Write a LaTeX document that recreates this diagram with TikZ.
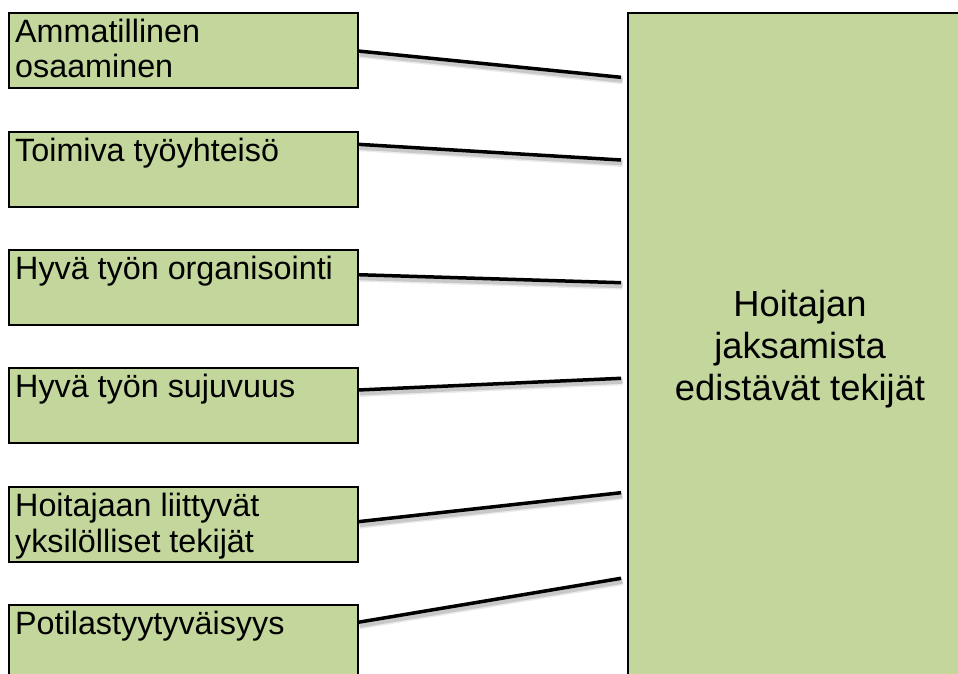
\documentclass[tikz,border=0pt]{standalone}
\usepackage{fontspec}
\setmainfont{Liberation Sans}
\usetikzlibrary{calc}
\definecolor{boxgreen}{RGB}{195,214,155}
\newcommand{\factorlines}[2][l]{\begin{tabular}[t]{@{}#1@{}}#2\end{tabular}}
\tikzset{
  factor/.style={draw=black, line width=2pt, fill=boxgreen, minimum width=349pt,
    minimum height=75pt, inner sep=0pt, anchor=north west},
  factortext/.style={anchor=base west, inner sep=0pt,
    font=\fontsize{32.3}{35.5}\selectfont},
  mainbox/.style={draw=black, line width=2pt, fill=boxgreen, minimum width=346pt,
    minimum height=668pt, inner sep=0pt, anchor=north west},
  maintext/.style={anchor=base, inner sep=0pt, font=\fontsize{36.3}{42}\selectfont},
  link/.style={line width=3.5pt, black,
    preaction={draw=black, opacity=0.08, line width=8pt,
      transform canvas={shift={(1.5pt,-3pt)}}},
    preaction={draw=black, opacity=0.15, line width=5pt,
      transform canvas={shift={(1.5pt,-3pt)}}}},
}
\begin{document}
\begin{tikzpicture}[x=1pt, y=-1pt]
  \useasboundingbox (0,0) rectangle (958,674);
  \clip (0,0) rectangle (958,674);

  % factor boxes on the left
  \node[factor] (b1) at (8,12)  {};
  \node[factor] (b2) at (8,131) {};
  \node[factor] (b3) at (8,249) {};
  \node[factor] (b4) at (8,367) {};
  \node[factor] (b5) at (8,486) {};
  \node[factor] (b6) at (8,604) {};

  \node[factortext] (t1) at ($(b1.north west)+(7,30.5)$) {\factorlines{Ammatillinen\\osaaminen}};
  \node[factortext] (t2) at ($(b2.north west)+(7,30.5)$) {\factorlines{Toimiva työyhteisö}};
  \node[factortext] (t3) at ($(b3.north west)+(7,30.5)$) {\factorlines{Hyvä työn organisointi}};
  \node[factortext] (t4) at ($(b4.north west)+(7,30.5)$) {\factorlines{Hyvä työn sujuvuus}};
  \node[factortext] (t5) at ($(b5.north west)+(7,30.5)$) {\factorlines{Hoitajaan liittyvät\\yksilölliset tekijät}};
  \node[factortext] (t6) at ($(b6.north west)+(7,30.5)$) {\factorlines{Potilastyytyväisyys}};

  % central box on the right
  \node[mainbox] (main) at (627,12) {};
  \node[maintext] (mt) at (800,316) {\factorlines[c]{Hoitajan\\jaksamista\\edistävät tekijät}};

  % connector ends, just short of the central box
  \coordinate (e1) at ($(main.north west)+(-6,65.3)$);
  \coordinate (e2) at ($(main.north west)+(-6,148)$);
  \coordinate (e3) at ($(main.north west)+(-6,270.7)$);
  \coordinate (e4) at ($(main.north west)+(-6,366.3)$);
  \coordinate (e5) at ($(main.north west)+(-6,480.7)$);
  \coordinate (e6) at ($(main.north west)+(-6,566.3)$);

  % connectors
  \draw[link] ($(b1.north east)+(-1,39)$)   -- (e1);
  \draw[link] ($(b2.north east)+(-1,13.3)$) -- (e2);
  \draw[link] ($(b3.north east)+(-1,25.7)$) -- (e3);
  \draw[link] ($(b4.north east)+(-1,23)$)   -- (e4);
  \draw[link] ($(b5.north east)+(-1,35.7)$) -- (e5);
  \draw[link] ($(b6.north east)+(-1,18.3)$) -- (e6);
\end{tikzpicture}
\end{document}
